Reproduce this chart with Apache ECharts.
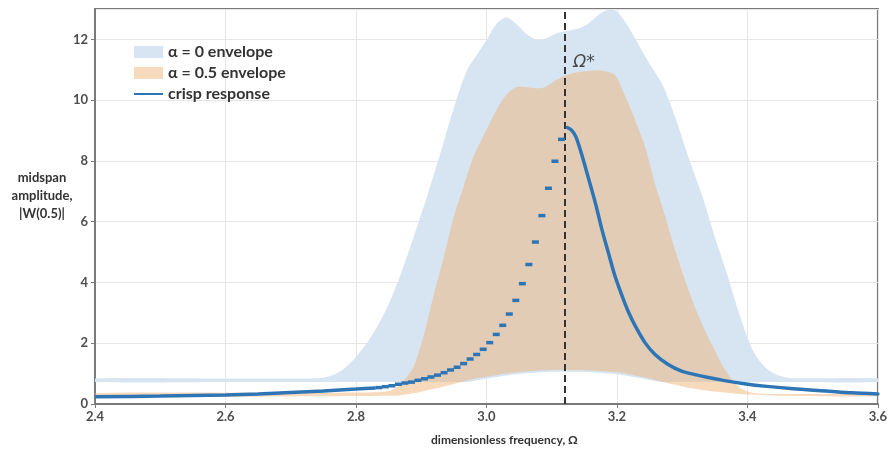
<!DOCTYPE html>
<html>
<head>
<meta charset="utf-8">
<script src="https://cdn.jsdelivr.net/npm/echarts@6/dist/echarts.min.js"></script>
<style>
  html, body { margin: 0; padding: 0; background: #ffffff; }
  #chart { width: 890px; height: 451px; }
</style>
</head>
<body>
<div id="chart"></div>
<script>
// α = 0 envelope (widest cut): frequency grid with lower / upper amplitude bounds
const alpha0Freq  = [2.40, 2.60, 2.72, 2.75, 2.77, 2.79, 2.81, 2.83, 2.85, 2.87, 2.89, 2.91, 2.93, 2.95, 2.97, 2.985, 3.00, 3.015, 3.03, 3.045, 3.06, 3.075, 3.09, 3.11, 3.14, 3.155, 3.17, 3.187, 3.20, 3.215, 3.23, 3.25, 3.27, 3.29, 3.31, 3.33, 3.35, 3.37, 3.39, 3.41, 3.43, 3.45, 3.47, 3.60];
const alpha0Lower = [0.72, 0.72, 0.72, 0.72, 0.72, 0.72, 0.72, 0.72, 0.72, 0.72, 0.72, 0.72, 0.72, 0.72, 0.72, 0.78, 0.84, 0.89, 0.94, 0.98, 1.01, 1.03, 1.05, 1.06, 1.06, 1.05, 1.03, 1.00, 0.98, 0.93, 0.87, 0.79, 0.72, 0.72, 0.72, 0.72, 0.72, 0.72, 0.72, 0.72, 0.72, 0.72, 0.72, 0.72];
const alpha0Upper = [0.84, 0.84, 0.84, 0.86, 1.00, 1.32, 1.82, 2.45, 3.28, 4.35, 5.60, 6.90, 8.30, 9.75, 10.98, 11.48, 11.97, 12.50, 12.72, 12.52, 12.20, 12.00, 12.02, 12.22, 12.35, 12.50, 12.78, 12.98, 12.92, 12.50, 11.95, 11.20, 10.50, 9.40, 8.10, 6.90, 5.50, 4.20, 2.80, 1.70, 1.15, 0.92, 0.85, 0.84];

// α = 0.5 envelope
const alpha05Freq  = [2.40, 2.70, 2.80, 2.85, 2.865, 2.88, 2.89, 2.905, 2.92, 2.935, 2.95, 2.965, 2.98, 2.995, 3.015, 3.03, 3.045, 3.065, 3.085, 3.11, 3.13, 3.155, 3.18, 3.197, 3.213, 3.228, 3.243, 3.258, 3.274, 3.289, 3.304, 3.319, 3.334, 3.349, 3.365, 3.385, 3.405, 3.45, 3.60];
const alpha05Lower = [0.24, 0.25, 0.26, 0.27, 0.28, 0.32, 0.36, 0.43, 0.50, 0.58, 0.66, 0.74, 0.82, 0.88, 0.95, 1.00, 1.04, 1.08, 1.11, 1.12, 1.12, 1.11, 1.08, 1.05, 1.00, 0.94, 0.87, 0.79, 0.71, 0.63, 0.56, 0.50, 0.45, 0.41, 0.38, 0.34, 0.31, 0.27, 0.25];
const alpha05Upper = [0.36, 0.37, 0.38, 0.42, 0.60, 0.95, 1.30, 2.35, 3.66, 4.86, 6.17, 7.16, 8.14, 8.80, 9.67, 10.16, 10.42, 10.42, 10.40, 10.70, 10.87, 10.96, 10.96, 10.82, 10.11, 9.34, 8.47, 7.27, 6.17, 5.08, 4.10, 3.22, 2.46, 1.80, 1.15, 0.60, 0.38, 0.33, 0.32];

// crisp response: low-frequency run, sampled branch approaching Ω*, branch above Ω*
const crispLowFreq  = [2.40, 2.50, 2.60, 2.65, 2.70, 2.75, 2.80, 2.83];
const crispLowAmp   = [0.24, 0.26, 0.30, 0.33, 0.38, 0.43, 0.49, 0.53];
const crispStepFreq = [2.835, 2.845, 2.855, 2.865, 2.875, 2.885, 2.895, 2.905, 2.915, 2.925, 2.935, 2.945, 2.955, 2.965, 2.975, 2.985, 2.995, 3.005, 3.015, 3.025, 3.035, 3.045, 3.055, 3.065, 3.075, 3.085, 3.095, 3.105, 3.115];
const crispStepAmp  = [0.54, 0.57, 0.60, 0.65, 0.69, 0.72, 0.78, 0.83, 0.89, 0.95, 1.03, 1.12, 1.21, 1.33, 1.48, 1.63, 1.80, 2.02, 2.29, 2.59, 2.96, 3.41, 3.96, 4.59, 5.33, 6.20, 7.10, 7.99, 8.71];
const crispHighFreq = [3.124, 3.130, 3.137, 3.147, 3.157, 3.167, 3.177, 3.187, 3.197, 3.208, 3.218, 3.228, 3.243, 3.258, 3.278, 3.299, 3.315, 3.340, 3.365, 3.395, 3.430, 3.470, 3.520, 3.560, 3.600];
const crispHighAmp  = [9.10, 9.02, 8.80, 8.14, 7.38, 6.61, 5.74, 4.97, 4.21, 3.55, 3.01, 2.57, 2.02, 1.64, 1.31, 1.08, 0.99, 0.87, 0.77, 0.67, 0.58, 0.50, 0.43, 0.37, 0.33];

// critical frequency marker
const OMEGA_STAR = 3.124;

const BLUE_FILL = '#d7e5f2';
const ORANGE_FILL = 'rgba(240,180,120,0.5)';
const CRISP = '#2e75b6';
const FONT = 'Lato, "Noto Sans", sans-serif';

const pairs = (xs, ys) => xs.map((x, i) => [x, ys[i]]);

// filled band between a lower and an upper bound, closed as one polygon in data space
function band(name, xs, lo, hi, color, z) {
  return {
    name: name, type: 'custom', silent: true, z: z, clip: true,
    itemStyle: { color: color },
    data: [[xs[0], lo[0]]],
    renderItem: function (params, api) {
      const pts = [];
      for (let i = 0; i < xs.length; i++) pts.push(api.coord([xs[i], hi[i]]));
      for (let i = xs.length - 1; i >= 0; i--) pts.push(api.coord([xs[i], lo[i]]));
      return {
        type: 'polygon',
        shape: { points: pts, smooth: 0.3 },
        style: { fill: color, stroke: null }
      };
    }
  };
}

const chart = echarts.init(document.getElementById('chart'), null, { renderer: 'canvas' });

chart.setOption({
  animation: false,
  backgroundColor: '#ffffff',
  textStyle: { fontFamily: FONT },
  grid: {
    left: 95, right: 5, top: 9, bottom: 46,
    show: true, borderColor: '#7a7a7a', borderWidth: 2
  },
  legend: {
    left: 133, top: 44, orient: 'vertical', padding: 0,
    itemWidth: 29, itemHeight: 12, itemGap: 5,
    textStyle: { fontFamily: FONT, fontSize: 16, fontWeight: 'bold', color: '#333333' },
    data: [
      { name: 'α = 0 envelope', icon: 'rect' },
      { name: 'α = 0.5 envelope', icon: 'rect' },
      { name: 'crisp response', itemStyle: { opacity: 0 } }
    ]
  },
  graphic: [{
    type: 'text', x: 42, y: 169, silent: true,
    style: {
      text: 'midspan\namplitude,\n|W(0.5)|', fill: '#333333',
      align: 'center', verticalAlign: 'top',
      font: 'bold 13px ' + FONT, lineHeight: 18
    }
  }],
  xAxis: {
    type: 'value', min: 2.4, max: 3.6, interval: 0.2,
    name: 'dimensionless frequency, Ω', nameLocation: 'middle', nameGap: 30,
    nameTextStyle: { fontFamily: FONT, fontSize: 12, fontWeight: 'bold', color: '#333333', padding: [0, 0, 0, 36] },
    axisLine: { show: true, lineStyle: { color: '#7a7a7a', width: 2 } },
    axisTick: { show: true, length: 4, lineStyle: { color: '#7a7a7a' } },
    axisLabel: { fontFamily: FONT, fontSize: 13, color: '#4d4d4d', fontWeight: 'bold', margin: 6,
                 formatter: v => v.toFixed(1) },
    splitLine: { show: true, lineStyle: { color: '#e6e6e6', width: 1 } }
  },
  yAxis: {
    type: 'value', min: 0, max: 13, interval: 2,
    axisLine: { show: true, lineStyle: { color: '#7a7a7a', width: 2 } },
    axisTick: { show: true, length: 4, lineStyle: { color: '#7a7a7a' } },
    axisLabel: { fontFamily: FONT, fontSize: 13, color: '#4d4d4d', fontWeight: 'bold', margin: 7,
                 showMaxLabel: false },
    splitLine: { show: true, lineStyle: { color: '#e6e6e6', width: 1 } }
  },
  series: [
    band('α = 0 envelope', alpha0Freq, alpha0Lower, alpha0Upper, BLUE_FILL, 1),
    band('α = 0.5 envelope', alpha05Freq, alpha05Lower, alpha05Upper, ORANGE_FILL, 2),
    {
      name: 'crisp response', type: 'line', smooth: 0.3, symbol: 'none', z: 5,
      data: pairs(crispLowFreq, crispLowAmp),
      lineStyle: { color: CRISP, width: 3.5 }, itemStyle: { color: CRISP }
    },
    {
      name: 'crisp samples', type: 'scatter', z: 5, silent: true,
      symbol: 'rect', symbolSize: [7, 3.5],
      data: pairs(crispStepFreq, crispStepAmp),
      itemStyle: { color: CRISP, opacity: 1 }
    },
    {
      name: 'crisp response', type: 'line', smooth: 0.3, symbol: 'none', z: 5,
      data: pairs(crispHighFreq, crispHighAmp),
      lineStyle: { color: CRISP, width: 3.5, cap: 'round' }, itemStyle: { color: CRISP },
      markLine: {
        silent: true, symbol: ['none', 'none'], animation: false,
        label: { show: false },
        lineStyle: { color: '#333333', width: 2, type: [7, 4] },
        data: [{ xAxis: OMEGA_STAR }]
      }
    },
    {
      type: 'scatter', silent: true, z: 6, symbolSize: 0,
      data: [[OMEGA_STAR, 11.25]],
      label: {
        show: true, position: 'right', distance: 6, formatter: 'Ω*',
        fontFamily: '"DejaVu Sans", sans-serif', fontStyle: 'italic', fontSize: 17, color: '#222222'
      }
    }
  ]
});
</script>
</body>
</html>
